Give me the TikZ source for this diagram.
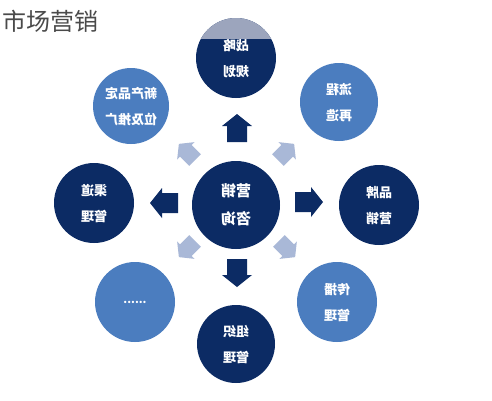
\documentclass[tikz,border=0pt]{standalone}
\usepackage{fontspec}
\setmainfont{Noto Sans CJK SC}
\definecolor{navy}{HTML}{0C2B64}
\definecolor{midblue}{HTML}{4B7DBF}
\definecolor{paleblue}{HTML}{A9B8D7}
\definecolor{capgray}{HTML}{9CA5BD}
\definecolor{titlegray}{HTML}{4A4A4A}
\newcommand{\mirrored}[1]{\reflectbox{\begin{tabular}{@{}c@{}}#1\end{tabular}}}

\begin{document}
\begin{tikzpicture}[x=1pt,y=-1pt,
  bubble/.style={circle,minimum size=80pt,inner sep=0pt,text=white,
    font=\bfseries\fontsize{13}{26}\selectfont,align=center},
  dark/.style={bubble,fill=navy},
  light/.style={bubble,fill=midblue}]

\useasboundingbox[fill=white] (0,0) rectangle (492,400);

\node[anchor=west,inner sep=0pt,text=titlegray,font=\fontsize{24}{26}\selectfont] (title) at (2,21) {市场营销};

% circles
\node[dark,minimum size=88pt,font=\bfseries\fontsize{15}{28}\selectfont] (center) at (236,205) {\mirrored{营销\\咨询}};
\node[dark,path picture={\fill[capgray] ([yshift=2pt]path picture bounding box.north west) rectangle ([yshift=-21pt]path picture bounding box.north east);}] (strat) at (236,58) {\mirrored{战略\\规划}};
\node[light,minimum size=76pt] (newprod) at (131,106) {\mirrored{新产品定\\位及推广}};
\node[light,minimum size=78pt] (process) at (339,102) {\mirrored{流程\\再造}};
\node[dark] (channel) at (94,203) {\mirrored{渠道\\管理}};
\node[dark] (brand) at (379,205) {\mirrored{品牌\\营销}};
\node[light,font=\bfseries\fontsize{11}{13}\selectfont] (more) at (135,302) {......};
\node[dark,minimum size=78pt] (org) at (236,344) {\mirrored{组织\\管理}};
\node[light] (comm) at (337,302) {\mirrored{传播\\管理}};

% dark arrows
\foreach \a/\px/\py in {90/237/128, 180/164/203, 0/309/202, 270/237/273}{
\fill[navy,shift={(\px,\py)},rotate=\a] (-14,-10) -- (2,-10) -- (2,-15) -- (14,0) -- (2,15) -- (2,10) -- (-14,10) -- cycle;
}

% pale arrows
\foreach \a/\px/\py in {135/187/152, 45/286/152, 225/187/249, 315/287/249}{
\fill[paleblue,shift={(\px,\py)},rotate=\a,scale=0.82] (-14,-10) -- (2,-10) -- (2,-15) -- (14,0) -- (2,15) -- (2,10) -- (-14,10) -- cycle;
}
\end{tikzpicture}
\end{document}
